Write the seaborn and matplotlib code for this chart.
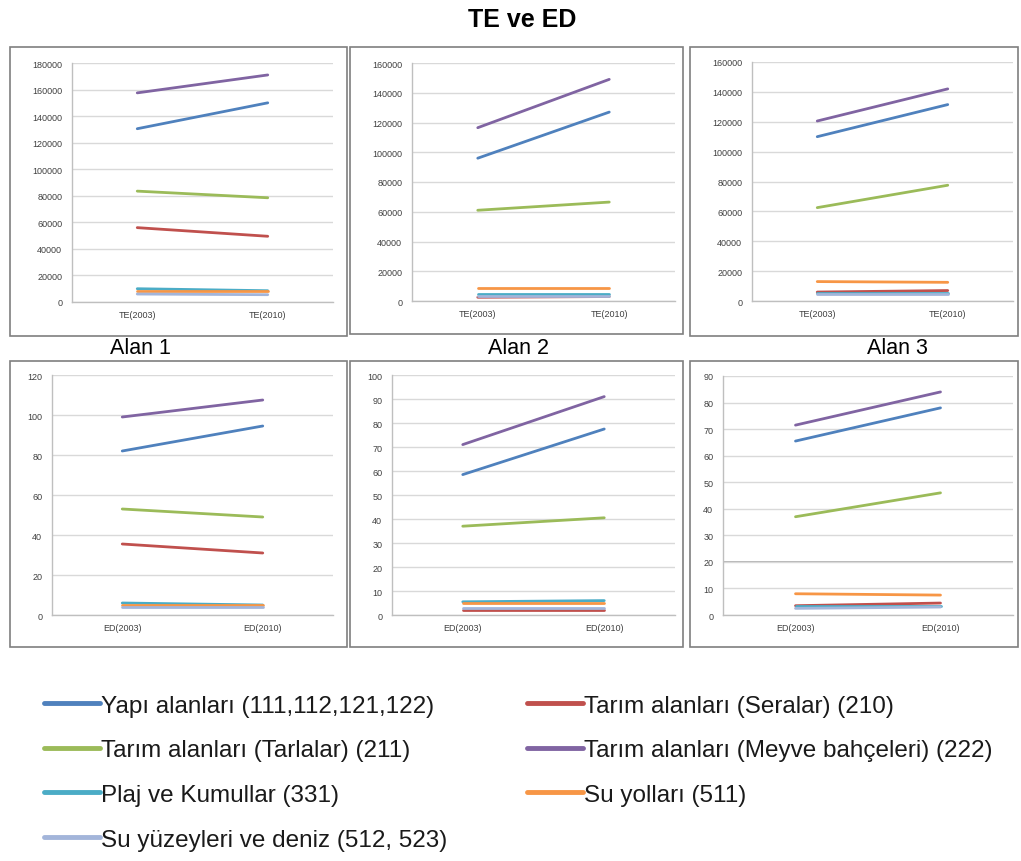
import matplotlib
matplotlib.use("Agg")
import matplotlib.pyplot as plt
from matplotlib.patches import Rectangle
import seaborn as sns
import pandas as pd

# ---------------- data ----------------
series = [
    "Yapı alanları (111,112,121,122)",
    "Tarım alanları (Seralar) (210)",
    "Tarım alanları (Tarlalar) (211)",
    "Tarım alanları (Meyve bahçeleri) (222)",
    "Plaj ve Kumullar (331)",
    "Su yolları (511)",
    "Su yüzeyleri ve deniz (512, 523)",
]
colors = ["#4F81BD", "#C0504D", "#9BBB59", "#8064A2", "#4BACC6", "#F79646", "#A3B5DA"]

te_periods = ["TE(2003)", "TE(2010)"]
ed_periods = ["ED(2003)", "ED(2010)"]

# TE values (first period, second period), order as in `series`
te_alan1_a = [130500, 56000, 83500, 157500, 10000, 8000, 6000]
te_alan1_b = [150000, 49500, 78500, 171000, 8500, 8000, 5500]
te_alan2_a = [96000, 2500, 61000, 116500, 4500, 8500, 3500]
te_alan2_b = [127000, 3000, 66500, 149000, 4500, 8500, 3500]
te_alan3_a = [110000, 6000, 62500, 120500, 5500, 13000, 4500]
te_alan3_b = [131500, 7000, 77500, 142000, 5500, 12500, 4500]

# ED values
ed_alan1_a = [82, 35.5, 53, 99, 6, 5, 4]
ed_alan1_b = [94.5, 31, 49, 107.5, 5, 5, 4]
ed_alan2_a = [58.5, 2, 37, 71, 5.5, 5, 3]
ed_alan2_b = [77.5, 2, 40.5, 91, 6, 5, 3]
ed_alan3_a = [65.5, 3.5, 37, 71.5, 3.5, 8, 2.5]
ed_alan3_b = [78, 4.5, 46, 84, 3.5, 7.5, 3]

te_ymax = [180000, 160000, 160000]
te_step = 20000
ed_ymax = [120, 100, 90]
ed_step = [20, 10, 10]
panel_titles = ["Alan 1", "Alan 2", "Alan 3"]

# ---------------- figure ----------------
sns.set_theme(style="white")
plt.rcParams["font.family"] = ["Liberation Sans", "DejaVu Sans"]

W, H = 1021, 862
fig = plt.figure(figsize=(W / 100, H / 100), dpi=100)
fig.patch.set_facecolor("white")


def px_axes(x0, y0, x1, y1):
    return fig.add_axes([x0 / W, 1 - y1 / H, (x1 - x0) / W, (y1 - y0) / H])


def frame(x0, y0, x1, y1):
    fig.patches.append(Rectangle((x0 / W, 1 - y1 / H), (x1 - x0) / W, (y1 - y0) / H,
                                 transform=fig.transFigure, fill=False,
                                 edgecolor="#7F7F7F", linewidth=1.2, zorder=0))


palette = dict(zip(series, colors))


def make_df(periods, a, b):
    rows = []
    for s, va, vb in zip(series, a, b):
        rows.append((s, periods[0], va))
        rows.append((s, periods[1], vb))
    return pd.DataFrame(rows, columns=["series", "period", "value"])


def style_axes(ax, ymax, step):
    ax.set_xlim(-0.5, 1.5)
    ax.set_ylim(0, ymax)
    ax.set_yticks(list(range(0, ymax + 1, step)))
    ax.grid(axis="y", color="#D9D9D9", linewidth=1)
    ax.grid(axis="x", visible=False)
    ax.set_axisbelow(True)
    for sp in ["top", "right"]:
        ax.spines[sp].set_visible(False)
    for sp in ["left", "bottom"]:
        ax.spines[sp].set_color("#BFBFBF")
        ax.spines[sp].set_linewidth(1)
    ax.tick_params(axis="both", labelsize=6.5, colors="#404040", length=0, pad=6)
    ax.tick_params(axis="y", length=3, color="#BFBFBF", direction="out", pad=4)
    ax.set_xlabel("")
    ax.set_ylabel("")
    ax.set_xticks([-0.5, 0.5, 1.5], minor=True)
    ax.tick_params(axis="x", which="minor", length=3, color="#BFBFBF", direction="out")
    ax.patch.set_alpha(0)


te_data = [(te_alan1_a, te_alan1_b), (te_alan2_a, te_alan2_b), (te_alan3_a, te_alan3_b)]
ed_data = [(ed_alan1_a, ed_alan1_b), (ed_alan2_a, ed_alan2_b), (ed_alan3_a, ed_alan3_b)]

te_boxes = [(72, 64, 333, 303), (412, 64, 675, 302), (752, 63, 1013, 302)]
ed_boxes = [(52, 376, 333, 616), (392, 376, 675, 616), (723, 377, 1013, 616)]
te_frames = [(10, 48, 347, 337), (350, 48, 683, 335), (690, 48, 1018, 337)]
ed_frames = [(10, 362, 347, 648), (350, 362, 683, 648), (690, 362, 1018, 648)]

handles = labels = None
for i in range(3):
    frame(*te_frames[i])
    frame(*ed_frames[i])

    ax = px_axes(*te_boxes[i])
    df = make_df(te_periods, *te_data[i])
    sns.lineplot(data=df, x="period", y="value", hue="series", hue_order=series,
                 palette=palette, sort=False, linewidth=2, ax=ax, legend=(i == 0))
    if i == 0:
        handles, labels = ax.get_legend_handles_labels()
        ax.get_legend().remove()
    style_axes(ax, te_ymax[i], te_step)

    ax2 = px_axes(*ed_boxes[i])
    df2 = make_df(ed_periods, *ed_data[i])
    sns.lineplot(data=df2, x="period", y="value", hue="series", hue_order=series,
                 palette=palette, sort=False, linewidth=2, ax=ax2, legend=False)
    style_axes(ax2, ed_ymax[i], ed_step[i])
    if i == 2:
        ax2.axhline(20, color="#A6A6A6", linewidth=1.2, zorder=0.5)

# titles
fig.text(522 / W, 1 - 20 / H, "TE ve ED", ha="center", va="center",
         fontsize=18, fontweight="bold", color="black")
for x, t in zip([140, 519, 897], panel_titles):
    fig.text(x / W, 1 - 349 / H, t, ha="center", va="center", fontsize=15.5, color="black")

# legend (row order: left column / right column)
for h in handles:
    h.set_linewidth(3.5)
lab_map = dict(zip(labels, handles))
left = [series[0], series[2], series[4], series[6]]
right = [series[1], series[3], series[5]]
leg_font = {"family": ["Liberation Sans", "DejaVu Sans"], "size": 17.5}
for names, x0 in [(left, 34), (right, 517)]:
    leg = fig.legend([lab_map[n] for n in names], names, loc="upper left",
                     bbox_to_anchor=(x0 / W, 1 - 686 / H), frameon=False,
                     prop=leg_font, handlelength=2.3, handletextpad=0.05,
                     labelspacing=0.93, borderaxespad=0)
    for t in leg.get_texts():
        t.set_color("#1A1A1A")

fig.savefig("out.png", dpi=100, facecolor="white")
